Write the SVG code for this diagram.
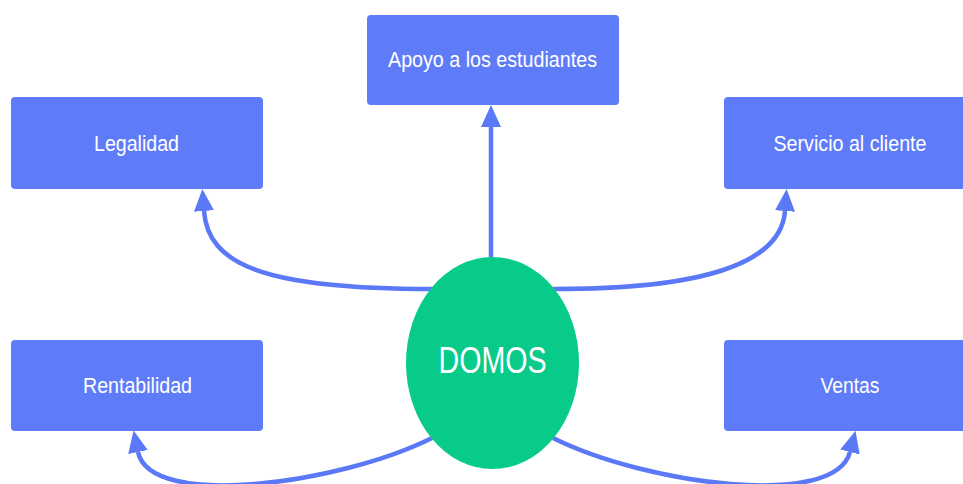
<svg xmlns="http://www.w3.org/2000/svg" width="963" height="484" viewBox="0 0 963 484">
<style>
.box{fill:#5f7cf8;}
.lbl{fill:#ffffff;font-family:"Liberation Sans",Arial,sans-serif;font-size:22px;text-anchor:middle;}
.edge{fill:none;stroke:#5b78f6;stroke-width:4.5;}
</style>
<defs>
<marker id="ah" viewBox="0 0 22 20" refX="0" refY="10" markerWidth="22" markerHeight="20" markerUnits="userSpaceOnUse" orient="auto">
<polygon points="0,0 22,10 0,20" fill="#5b78f6"/>
</marker>
</defs>
<rect width="963" height="484" fill="#ffffff"/>
<g id="connectors">
<path class="edge" d="M491,258 L491,127" marker-end="url(#ah)"/>
<path class="edge" d="M432,289 C262,289 208,264 204,211" marker-end="url(#ah)"/>
<path class="edge" d="M553,289 C700,289 781,265 785,211" marker-end="url(#ah)"/>
<path class="edge" d="M432,438 C340,484 150,510 138,452" marker-end="url(#ah)"/>
<path class="edge" d="M553,438 C645,484 835,510 850,452" marker-end="url(#ah)"/>
</g>
<g id="node-apoyo">
<rect class="box" x="367" y="15" width="252" height="90" rx="4"/>
<text class="lbl" x="492.5" y="67" textLength="209" lengthAdjust="spacingAndGlyphs">Apoyo a los estudiantes</text>
</g>
<g id="node-legalidad">
<rect class="box" x="11" y="97" width="252" height="92" rx="4"/>
<text class="lbl" x="136.5" y="151" textLength="85" lengthAdjust="spacingAndGlyphs">Legalidad</text>
</g>
<g id="node-servicio">
<rect class="box" x="724" y="97" width="252" height="92" rx="4"/>
<text class="lbl" x="850" y="151" textLength="153" lengthAdjust="spacingAndGlyphs">Servicio al cliente</text>
</g>
<g id="node-rentabilidad">
<rect class="box" x="11" y="340" width="252" height="91" rx="4"/>
<text class="lbl" x="137.5" y="393" textLength="109" lengthAdjust="spacingAndGlyphs">Rentabilidad</text>
</g>
<g id="node-ventas">
<rect class="box" x="724" y="340" width="252" height="91" rx="4"/>
<text class="lbl" x="850" y="393" textLength="59" lengthAdjust="spacingAndGlyphs">Ventas</text>
</g>
<g id="node-domos">
<ellipse cx="492.5" cy="363" rx="86.5" ry="106" fill="#08cb8a"/>
<text x="492.5" y="373" fill="#ffffff" font-family="Liberation Sans, Arial, sans-serif" font-size="36" text-anchor="middle" textLength="108" lengthAdjust="spacingAndGlyphs">DOMOS</text>
</g>
</svg>
